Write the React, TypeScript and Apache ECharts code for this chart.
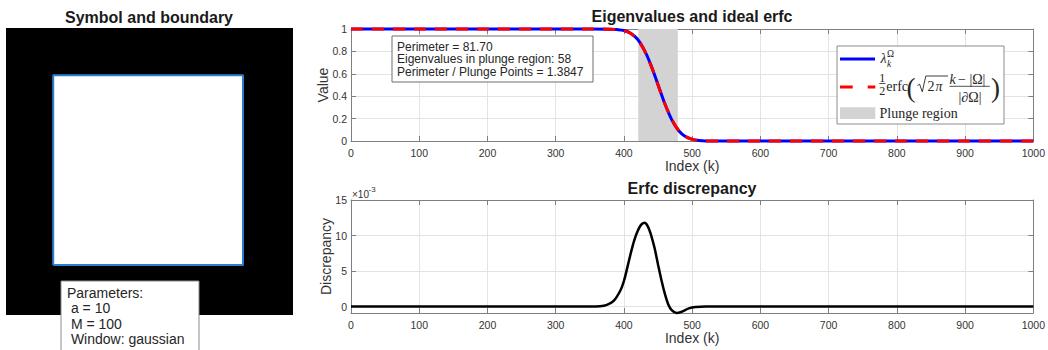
import React, { useEffect, useRef } from "react";
import * as echarts from "echarts";

// ---------- data ----------
const kIndex = [0, 100, 200, 300, 350, 380, 390, 400, 410, 420, 430, 440, 450, 460, 470, 480, 490, 500, 510, 520, 540, 600, 700, 800, 900, 1000];
const eigenValues = [1, 1, 1, 1, 1, 0.998, 0.995, 0.987, 0.962, 0.908, 0.811, 0.671, 0.502, 0.332, 0.191, 0.094, 0.04, 0.015, 0.005, 0.001, 0, 0, 0, 0, 0, 0];
const idealErfc = [1, 1, 1, 1, 1, 0.998, 0.995, 0.985, 0.959, 0.904, 0.807, 0.668, 0.5, 0.332, 0.193, 0.096, 0.041, 0.015, 0.005, 0.001, 0, 0, 0, 0, 0, 0];
const plungeStart = 421;
const plungeEnd = 479;

const discIndex = [0, 100, 200, 300, 350, 365, 375, 385, 395, 400, 406, 410, 415, 420, 425, 430, 435, 440, 445, 450, 455, 460, 465, 470, 477, 485, 495, 505, 520, 600, 700, 800, 900, 1000];
const discrepancy = [0, 0, 0, 0, 0, 0.05, 0.25, 0.8, 2.3, 3.6, 5.9, 7.5, 9.3, 10.6, 11.5, 11.8, 11.3, 10.0, 8.2, 5.9, 3.7, 1.8, 0.3, -0.5, -0.9, -0.7, -0.25, -0.05, 0, 0, 0, 0, 0, 0];

const boundaryX = [-10.4, 10.1, 10.1, -10.4, -10.4];
const boundaryY = [-10.1, -10.1, 10.4, 10.4, -10.1];
const imageExtent = [-15.5, 15.5];

const xTicks = { min: 0, max: 1000, interval: 100 };
const valueTicks = { min: 0, max: 1, interval: 0.2 };
const discTicks = [0, 5, 10, 15];
const discRange = { min: -0.9, max: 15 };

const textBoxLines = ["Perimeter = 81.70", "Eigenvalues in plunge region: 58", "Perimeter / Plunge Points = 1.3847"];
const paramLines = ["Parameters:", " a = 10", " M = 100", " Window: gaussian"];

// ---------- styling ----------
const SANS = '"Liberation Sans", Arial, Helvetica, sans-serif';
const SERIF = '"Liberation Serif", "Times New Roman", serif';
const AXIS_COLOR = "#7f7f7f";
const LABEL_COLOR = "#333333";
const GRID_COLOR = "#e3e3e3";
const INK = "#262626";
const TICK_FONT = 10.5;

function mainX(grid: number, name: string, gap: number) {
  return {
    gridIndex: grid, type: "value", position: "bottom", ...xTicks,
    name, nameLocation: "middle", nameGap: gap,
    nameTextStyle: { fontFamily: SANS, fontSize: 14, color: LABEL_COLOR },
    axisLine: { show: true, onZero: false, lineStyle: { color: AXIS_COLOR, width: 1 } },
    axisTick: { show: true, inside: true, length: 5, lineStyle: { color: AXIS_COLOR } },
    axisLabel: { fontFamily: SANS, fontSize: TICK_FONT, color: LABEL_COLOR, margin: 6, formatter: (v: number) => String(v) },
    splitLine: { show: true, lineStyle: { color: GRID_COLOR, width: 1 } },
  };
}
function boxX(grid: number) {
  return {
    gridIndex: grid, type: "value", position: "top", ...xTicks,
    axisLine: { show: true, onZero: false, lineStyle: { color: AXIS_COLOR, width: 1 } },
    axisTick: { show: true, inside: true, length: 5, lineStyle: { color: AXIS_COLOR } },
    axisLabel: { show: false }, splitLine: { show: false },
  };
}

export default function App() {
  const ref = useRef<HTMLDivElement>(null);
  useEffect(() => {
    if (!ref.current) return;
    const chart = echarts.init(ref.current, undefined, { renderer: "svg" });

    const yLeftValue = {
      gridIndex: 1, type: "value", position: "left", ...valueTicks,
      axisLine: { show: true, onZero: false, lineStyle: { color: AXIS_COLOR } },
      axisTick: { show: true, inside: true, length: 5, lineStyle: { color: AXIS_COLOR } },
      axisLabel: { fontFamily: SANS, fontSize: TICK_FONT, color: LABEL_COLOR, margin: 4 },
      splitLine: { show: true, lineStyle: { color: GRID_COLOR } },
    };
    const yRightValue = {
      gridIndex: 1, type: "value", position: "right", ...valueTicks,
      axisLine: { show: true, onZero: false, lineStyle: { color: AXIS_COLOR } },
      axisTick: { show: true, inside: true, length: 5, lineStyle: { color: AXIS_COLOR } },
      axisLabel: { show: false }, splitLine: { show: false },
    };
    const yLeftDisc = {
      gridIndex: 2, type: "value", position: "left", ...discRange,
      axisLine: { show: true, onZero: false, lineStyle: { color: AXIS_COLOR } },
      axisTick: { show: true, inside: true, length: 5, lineStyle: { color: AXIS_COLOR }, customValues: discTicks },
      axisLabel: { fontFamily: SANS, fontSize: TICK_FONT, color: LABEL_COLOR, margin: 4, customValues: discTicks },
      splitLine: { show: true, lineStyle: { color: GRID_COLOR } },
    };
    const yRightDisc = {
      gridIndex: 2, type: "value", position: "right", ...discRange,
      axisLine: { show: true, onZero: false, lineStyle: { color: AXIS_COLOR } },
      axisTick: { show: true, inside: true, length: 5, lineStyle: { color: AXIS_COLOR }, customValues: discTicks },
      axisLabel: { show: false, customValues: discTicks }, splitLine: { show: false },
    };

    const txt = (x: number, y: number, text: string, font: string, align = "left", vAlign = "middle", fill = INK) => ({
      type: "text", x, y, silent: true,
      style: { text, font, fill, align, verticalAlign: vAlign, textAlign: align, textVerticalAlign: vAlign },
    });
    const ln = (x1: number, y1: number, x2: number, y2: number, stroke: string, lineWidth: number, lineDash?: number[]) => ({
      type: "line", silent: true, shape: { x1, y1, x2, y2 },
      style: { stroke, lineWidth, lineDash },
    });

    const graphics: any[] = [
      // titles
      txt(149, 17, "Symbol and boundary", `bold 16px ${SANS}`, "center", "middle", "#1a1a1a"),
      txt(692, 16, "Eigenvalues and ideal erfc", `bold 16px ${SANS}`, "center", "middle", "#1a1a1a"),
      txt(692, 188, "Erfc discrepancy", `bold 16px ${SANS}`, "center", "middle", "#1a1a1a"),
      // y axis names
      { ...txt(323, 85, "Value", `14px ${SANS}`, "center", "middle", LABEL_COLOR), rotation: Math.PI / 2 },
      { ...txt(326, 256.5, "Discrepancy", `14px ${SANS}`, "center", "middle", LABEL_COLOR), rotation: Math.PI / 2 },
      // exponent label
      txt(352, 194, "×10", `10px ${SANS}`, "left", "middle", LABEL_COLOR),
      txt(368.5, 189.5, "-3", `8px ${SANS}`, "left", "middle", LABEL_COLOR),
      // info box in top axes
      { type: "rect", shape: { x: 392, y: 36, width: 201, height: 46 }, style: { fill: "#fff", stroke: "#6e6e6e", lineWidth: 1 }, z: 50, silent: true },
      ...textBoxLines.map((t, i) => ({ ...txt(397, 46.5 + i * 12.5, t, `12px ${SANS}`), z: 51 })),
      // parameters box
      { type: "rect", shape: { x: 61, y: 281, width: 138, height: 80 }, style: { fill: "#fff", stroke: "#8c8c8c", lineWidth: 1 }, z: 50, silent: true },
      ...paramLines.map((t, i) => ({ ...txt(67, 292.5 + i * 15.5, t, `14px ${SANS}`), z: 51 })),
      // legend
      { type: "rect", shape: { x: 837, y: 46, width: 167, height: 78 }, style: { fill: "#fff", stroke: "#8c8c8c", lineWidth: 1 }, z: 50, silent: true },
      { ...ln(840, 59, 875, 59, "#0000ff", 3), z: 51 },
      { ...txt(880.5, 58.5, "λ", `italic 14px ${SERIF}`), z: 51 },
      { ...txt(887, 53.8, "Ω", `9.5px ${SERIF}`), z: 51 },
      { ...txt(887, 64, "k", `italic 9.5px ${SERIF}`), z: 51 },
      { ...ln(840, 87, 875.3, 87, "#ff0000", 3, [12.7, 15]), z: 51 },
      { ...txt(882.3, 77.5, "1", `12px ${SERIF}`, "center"), z: 51 },
      { ...ln(879.3, 83.5, 885.5, 83.5, INK, 0.8), z: 51 },
      { ...txt(882.3, 91, "2", `12px ${SERIF}`, "center"), z: 51 },
      { ...txt(886.3, 86.3, "erfc", `14px ${SERIF}`), z: 51 },
      { ...txt(911, 87.5, "(", `27px ${SERIF}`, "center"), z: 51 },
      { type: "polyline", silent: true, z: 51, shape: { points: [[917.5, 85.5], [919.6, 84.2], [922.3, 91.8], [925.8, 76], [948, 76]] }, style: { stroke: INK, lineWidth: 0.9, fill: null } },
      { ...txt(927.5, 86.3, "2", `14px ${SERIF}`), z: 51 },
      { ...txt(935.5, 86.3, "π", `italic 14px ${SERIF}`), z: 51 },
      { ...txt(949.5, 79.5, "k", `italic 14px ${SERIF}`), z: 51 },
      { ...txt(958, 79.5, "− |Ω|", `14px ${SERIF}`), z: 51 },
      { ...ln(949.5, 86.3, 989.8, 86.3, INK, 0.8), z: 51 },
      { ...txt(970, 97, "|∂Ω|", `14px ${SERIF}`, "center"), z: 51 },
      { ...txt(995.5, 87.5, ")", `27px ${SERIF}`, "center"), z: 51 },
      { type: "rect", z: 51, silent: true, shape: { x: 840, y: 107.3, width: 35.3, height: 11.7 }, style: { fill: "#d3d3d3" } },
      { ...txt(879.5, 113.3, "Plunge region", `14px ${SERIF}`), z: 51 },
    ];

    const option: any = {
      animation: false,
      grid: [
        { left: 6, top: 28, width: 287, height: 287, show: true, backgroundColor: "#000000", borderWidth: 0 },
        { left: 351, top: 29, width: 683, height: 112, show: true, backgroundColor: "#ffffff", borderWidth: 0 },
        { left: 351, top: 200, width: 683, height: 113, show: true, backgroundColor: "#ffffff", borderWidth: 0 },
      ],
      xAxis: [
        { gridIndex: 0, type: "value", min: imageExtent[0], max: imageExtent[1], show: false },
        mainX(1, "Index (k)", 15),
        boxX(1),
        mainX(2, "Index (k)", 18),
        boxX(2),
      ],
      yAxis: [
        { gridIndex: 0, type: "value", min: imageExtent[0], max: imageExtent[1], show: false },
        yLeftValue,
        yRightValue,
        yLeftDisc,
        yRightDisc,
      ],
      series: [
        {
          type: "line", xAxisIndex: 0, yAxisIndex: 0, z: 1, silent: true,
          data: [[boundaryX[0], boundaryY[0]]], symbol: "none", lineStyle: { opacity: 0 },
          markArea: {
            silent: true, itemStyle: { color: "#ffffff" },
            data: [[{ coord: [boundaryX[0], boundaryY[0]] }, { coord: [boundaryX[2], boundaryY[2]] }]],
          },
        },
        {
          type: "line", xAxisIndex: 0, yAxisIndex: 0, z: 3, silent: true, clip: false,
          data: boundaryX.map((x, i) => [x, boundaryY[i]]), symbol: "none",
          lineStyle: { color: "#2a7fd0", width: 2 },
        },
        {
          type: "line", xAxisIndex: 1, yAxisIndex: 1, z: 1, silent: true,
          data: [[0, 0]], symbol: "none", lineStyle: { opacity: 0 },
          markArea: { silent: true, itemStyle: { color: "#d3d3d3" }, data: [[{ xAxis: plungeStart }, { xAxis: plungeEnd }]] },
        },
        {
          type: "line", name: "eigen", xAxisIndex: 1, yAxisIndex: 1, z: 3, clip: false,
          data: kIndex.map((k, i) => [k, eigenValues[i]]), symbol: "none",
          smooth: 0.3,
          lineStyle: { color: "#0000ff", width: 3 },
        },
        {
          type: "line", name: "ideal", xAxisIndex: 1, yAxisIndex: 1, z: 4, clip: false,
          data: kIndex.map((k, i) => [k, idealErfc[i]]), symbol: "none",
          smooth: 0.3,
          lineStyle: { color: "#ff0000", width: 3, type: [12, 9] },
        },
        {
          type: "line", name: "disc", xAxisIndex: 3, yAxisIndex: 3, z: 3, clip: false,
          data: discIndex.map((k, i) => [k, discrepancy[i]]), symbol: "none",
          smooth: 0.3,
          lineStyle: { color: "#000000", width: 2.5 },
        },
      ],
      graphic: graphics,
    };
    chart.setOption(option);
    return () => chart.dispose();
  }, []);
  return <div ref={ref} style={{ position: "absolute", left: 0, top: 0, width: 1048, height: 350 }} />;
}
